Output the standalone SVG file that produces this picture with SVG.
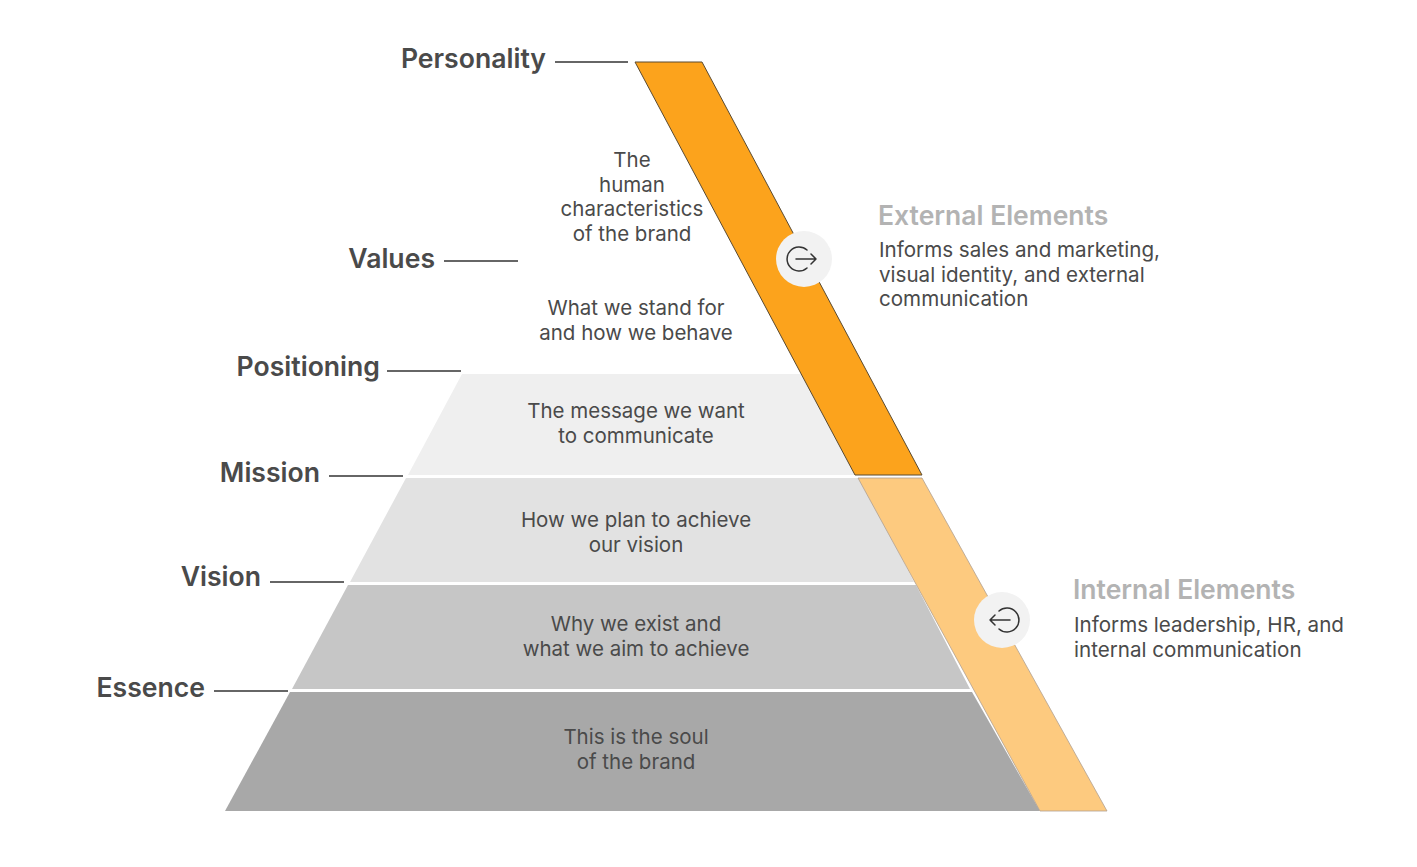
<svg xmlns="http://www.w3.org/2000/svg" width="1417" height="867" viewBox="0 0 1417 867">
<style>
.lbl{font-family:Inter,"Liberation Sans",sans-serif;font-size:26.6px;font-weight:600;fill:#4a4a4a}
.d{font-family:Inter,"Liberation Sans",sans-serif;font-size:20.5px;fill:#4a4a4a;text-anchor:middle}
.h{font-family:Inter,"Liberation Sans",sans-serif;font-size:26.5px;font-weight:600;fill:#b3b3b3}
.s{font-family:Inter,"Liberation Sans",sans-serif;font-size:20.6px;fill:#4a4a4a}
.ln{stroke:#333;stroke-width:1.5}
.ic{fill:none;stroke:#333;stroke-width:1.5;stroke-linecap:round;stroke-linejoin:round}
</style>
<rect width="1417" height="867" fill="#fff"/>
<g id="tier-positioning"><polygon points="462,374 805,374 858,475 408,475" fill="#efefef"/><text class="d" x="636" y="418">The message we want</text><text class="d" x="636" y="443">to communicate</text></g>
<g id="tier-mission"><polygon points="406,478 860,478 914,582 350,582" fill="#e2e2e2"/><text class="d" x="636" y="527">How we plan to achieve</text><text class="d" x="636" y="552">our vision</text></g>
<g id="tier-vision"><polygon points="348,585 916,585 970,689 292,689" fill="#c6c6c6"/><text class="d" x="636" y="631">Why we exist and</text><text class="d" x="636" y="656">what we aim to achieve</text></g>
<g id="tier-essence"><polygon points="290,692 972,692 1040,811 225,811" fill="#a8a8a8"/><text class="d" x="636" y="744">This is the soul</text><text class="d" x="636" y="769">of the brand</text></g>
<g id="tier-personality"><text class="d" x="632" y="167">The</text><text class="d" x="632" y="192">human</text><text class="d" x="632" y="216">characteristics</text><text class="d" x="632" y="241">of the brand</text></g>
<g id="tier-values"><text class="d" x="636" y="315">What we stand for</text><text class="d" x="636" y="340">and how we behave</text></g>
<g id="band-external"><polygon points="635,62 702,62 922,475 855,475" fill="#fca31c" stroke="#5a4a30" stroke-width="1"/>
<circle cx="804" cy="259" r="28" fill="#f2f2f2"/><path class="ic" d="M807,250 A12,12 0 1 0 807,268"/><path class="ic" d="M796,259 H816 M811,254 L816,259 L811,264"/></g>
<g id="band-internal"><polygon points="858,478 922,478 1107,811 1040,811" fill="#fdca7f" stroke="#b0a090" stroke-width="0.8"/>
<circle cx="1002" cy="620" r="28" fill="#f2f2f2"/><path class="ic" d="M999,611 A12,12 0 1 1 999,629"/><path class="ic" d="M1010,620 H990 M995,615 L990,620 L995,625"/></g>
<g id="connectors">
<line class="ln" x1="555" y1="62" x2="628" y2="62"/>
<line class="ln" x1="444" y1="261" x2="518" y2="261"/>
<line class="ln" x1="387" y1="371" x2="461" y2="371"/>
<line class="ln" x1="329" y1="476" x2="403" y2="476"/>
<line class="ln" x1="270" y1="582" x2="344" y2="582"/>
<line class="ln" x1="214" y1="691" x2="288" y2="691"/>
</g>
<g id="labels">
<text class="lbl" x="546" y="68" text-anchor="end">Personality</text>
<text class="lbl" x="435" y="268" text-anchor="end">Values</text>
<text class="lbl" x="380" y="376" text-anchor="end">Positioning</text>
<text class="lbl" x="320" y="482" text-anchor="end">Mission</text>
<text class="lbl" x="261" y="586" text-anchor="end">Vision</text>
<text class="lbl" x="205" y="697" text-anchor="end">Essence</text>
</g>
<g id="external-text"><text class="h" x="878" y="225">External Elements</text><text class="s" x="879" y="257">Informs sales and marketing,</text><text class="s" x="879" y="282">visual identity, and external</text><text class="s" x="879" y="306">communication</text></g>
<g id="internal-text"><text class="h" x="1073" y="599">Internal Elements</text><text class="s" x="1074" y="632">Informs leadership, HR, and</text><text class="s" x="1074" y="657">internal communication</text></g>
</svg>
